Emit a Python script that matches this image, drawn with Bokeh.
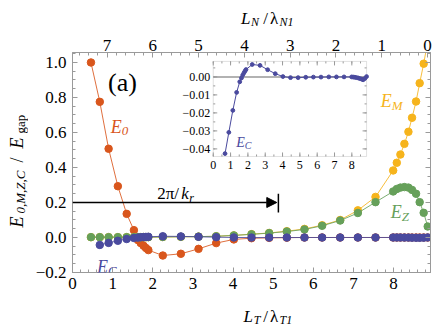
import numpy as np
from bokeh.plotting import figure
from bokeh.layouts import row, column
from bokeh.models import (Range1d, LinearAxis, FixedTicker, CustomJSTickFormatter,
                          Label, Arrow, NormalHead, BoxAnnotation)
from bokeh.core.properties import value
from bokeh.embed import file_html
from bokeh.resources import INLINE

# ---------------- data ----------------
LT = [0.46, 0.68, 0.90, 1.13, 1.35, 1.53, 1.63, 1.70, 1.77, 1.83, 1.89, 2.25, 2.70,
      3.14, 3.58, 4.02, 4.46, 4.90, 5.34, 5.78, 6.22, 6.67, 7.11, 7.55, 7.99, 8.08,
      8.17, 8.27, 8.37, 8.46, 8.56, 8.65, 8.75, 8.85]
E0 = [1.0, 0.775, 0.507, 0.293, 0.135, 0.042, -0.015, -0.032, -0.047, -0.060, -0.072,
      -0.103, -0.093, -0.065, -0.032, -0.011, -0.004, -0.002, -0.001, 0.0, 0.0, 0.0,
      0.0, 0.0, 0.0, 0.0, 0.0, 0.0, 0.0, 0.0, 0.0, 0.0, 0.0, 0.0]
EM = [0.002, 0.002, 0.002, 0.002, 0.002, 0.002, 0.002, 0.002, 0.002, 0.002, 0.002,
      0.003, 0.004, 0.005, 0.007, 0.012, 0.019, 0.026, 0.036, 0.049, 0.070, 0.100,
      0.155, 0.232, 0.383, 0.427, 0.474, 0.535, 0.604, 0.684, 0.777, 0.882, 0.993, 1.12]
EZ = [0.002, 0.002, 0.002, 0.002, 0.002, 0.002, 0.002, 0.002, 0.002, 0.002, 0.002,
      0.003, 0.004, 0.005, 0.007, 0.012, 0.018, 0.025, 0.034, 0.046, 0.067, 0.097,
      0.140, 0.202, 0.263, 0.277, 0.285, 0.288, 0.285, 0.272, 0.250, 0.202, 0.141, 0.063]
LT_C = LT[1:]
EC = [-0.0426, -0.0308, -0.0186, -0.0086, -0.0027, -0.0006, 0.0010, 0.0022, 0.0032,
      0.0041, 0.0069, 0.0064, 0.0040, 0.0018, 0.0002, -0.0004, -0.0004, -0.0002,
      -0.0001, -0.0001, 0.0, 0.0, 0.0, 0.0, -0.0001, -0.0002, -0.0004, -0.0006,
      -0.0009, -0.0012, -0.0016, -0.0009, 0.0002]

x_ticks = [0, 1, 2, 3, 4, 5, 6, 7, 8]
y_ticks = [-0.2, 0.0, 0.2, 0.4, 0.6, 0.8, 1.0]
LN_ticks = [0, 1, 2, 3, 4, 5, 6, 7]
inset_x_ticks = [0, 1, 2, 3, 4, 5, 6, 7, 8]
inset_x_labels = ["0", "1", "2", "3", "4", "5", "6", "7", "8"]
inset_y_ticks = [-0.04, -0.03, -0.02, -0.01, 0.0]
inset_y_labels = ["\u22120.04", "\u22120.03", "\u22120.02", "\u22120.01", "0.00"]

kr_level = 0.2        # height of the 2pi/k_r arrow
kr_period = 5.13      # 2pi/k_r in units of L_T/lambda_T1

# ---------------- layout (page pixels) ----------------
LW = 28                   # left strip (rotated y title)
TH, MH, BH = 27, 271, 27  # top strip, main figure, bottom strip heights
MW = 436 - LW
FL, FR, FT, FB = 72 - LW, 6, 52 - TH, TH + MH - 272   # main-figure borders
X0, X1 = 0.0, 8.92
Y0, Y1 = -0.2, 1.057
LN0, LN1 = 7.755, -0.066

GRAY = "#9a9a9a"
FONT = "Liberation Serif"
c0, cM, cZ, cC = "#D9561C", "#F6B41C", "#66A05A", "#4A4A9E"

p_main = figure(width=MW, height=MH, x_range=Range1d(X0, X1), y_range=Range1d(Y0, Y1),
                output_backend="svg", toolbar_location=None, title_location=None,
                min_border_left=FL, min_border_right=FR,
                min_border_top=FT, min_border_bottom=FB)
p_main.xgrid.visible = False
p_main.ygrid.visible = False
p_main.outline_line_color = GRAY
p_main.background_fill_color = "white"
p_main.border_fill_color = "white"


def style_axis(ax, standoff):
    ax.axis_line_color = GRAY
    ax.major_tick_line_color = GRAY
    ax.minor_tick_line_color = GRAY
    ax.major_tick_in = 5
    ax.major_tick_out = 0
    ax.minor_tick_in = 3
    ax.minor_tick_out = 0
    ax.major_label_text_font = FONT
    ax.major_label_text_font_size = "17px"
    ax.major_label_text_color = "black"
    ax.major_label_standoff = standoff


yminor = np.round(np.arange(-0.2, 1.06, 0.05), 3).tolist()
yfmt = CustomJSTickFormatter(code="""
const a = Math.abs(tick) < 1e-9 ? 0 : tick;
return (a < 0 ? "\u2212" : "") + Math.abs(a).toFixed(1);
""")

ax_b = p_main.xaxis[0]
ax_b.ticker = FixedTicker(ticks=x_ticks, minor_ticks=np.round(np.arange(0, 8.95, 0.2), 3).tolist())
style_axis(ax_b, 5)

ax_l = p_main.yaxis[0]
ax_l.ticker = FixedTicker(ticks=y_ticks, minor_ticks=yminor)
ax_l.formatter = yfmt
style_axis(ax_l, 6)

ax_r = LinearAxis(ticker=FixedTicker(ticks=y_ticks, minor_ticks=yminor),
                  formatter=CustomJSTickFormatter(code="return '';"))
style_axis(ax_r, 0)
ax_r.major_label_text_font_size = "1px"
p_main.add_layout(ax_r, "right")

p_main.extra_x_ranges = {"LN": Range1d(LN0, LN1)}
ax_t = LinearAxis(x_range_name="LN",
                  ticker=FixedTicker(ticks=LN_ticks,
                                     minor_ticks=np.round(np.arange(0, 7.8, 0.2), 3).tolist()))
style_axis(ax_t, 2)
p_main.add_layout(ax_t, "above")

PXY = (Y1 - Y0) / (MH - FT - FB)   # data units per pixel (y)


def lab(fig, x, y, text, size, color="black", italic=False, angle=0.0, x_offset=0):
    fig.add_layout(Label(x=x, y=y, text=text, text_font=FONT, text_font_size=f"{size}px",
                         text_color=color, text_font_style="italic" if italic else "normal",
                         angle=angle, text_align="left", text_baseline="alphabetic",
                         x_offset=x_offset))


def sym(x, y, main, sub, color, size=18, subsize=13, w=11, drop=4):
    lab(p_main, x, y, main, size, color, italic=True)
    lab(p_main, x, y - drop * PXY, sub, subsize, color, italic=True, x_offset=w)


# ---------------- main series ----------------
for xs, ys, col in [(LT, E0, c0), (LT, EM, cM), (LT, EZ, cZ), (LT_C, EC, cC)]:
    p_main.line(xs, ys, line_color=col, line_width=1, line_alpha=0.85)
    p_main.scatter(xs, ys, size=7.5, fill_color=col, line_color=col, marker="circle")

# arrow 2pi/k_r
p_main.add_layout(Arrow(end=NormalHead(size=10, fill_color="black", line_color="black", line_width=1),
                        x_start=X0, y_start=kr_level, x_end=kr_period - 0.04, y_end=kr_level,
                        line_color="black", line_width=1.5))
p_main.segment(x0=[kr_period], y0=[kr_level - 0.057], x1=[kr_period], y1=[kr_level + 0.05],
               line_color="black", line_width=1.5)
lab(p_main, 2.11, 0.251, "2\u03c0/", 17)
lab(p_main, 2.11, 0.251, "k", 17, italic=True, x_offset=24)
lab(p_main, 2.11, 0.251 - 4 * PXY, "r", 12, italic=True, x_offset=32)

# panel label and curve labels
lab(p_main, 0.886, 0.883, "(a)", 26)
sym(0.95, 0.629, "E", "0", c0)
sym(7.68, 0.779, "E", "M", cM)
sym(7.93, 0.145, "E", "Z", cZ)
sym(0.61, -0.166, "E", "C", cC)

# ---------------- inset ----------------
IX0, IX1 = 0.0, 8.85
IY0, IY1 = -0.0442, 0.0086
BL, BR, BB, BT = 3.507, 7.327, 0.463, 1.006   # inset box in main data units
sxm = (BR - BL) / (IX1 - IX0)
sym_ = (BT - BB) / (IY1 - IY0)
p_main.extra_x_ranges["ix"] = Range1d(IX0 - (BL - X0) / sxm, IX1 + (X1 - BR) / sxm)
p_main.extra_y_ranges["iy"] = Range1d(IY0 - (BB - Y0) / sym_, IY1 + (Y1 - BT) / sym_)
IPY = PXY / sym_   # inset y units per px

p_main.add_layout(BoxAnnotation(left=BL, right=BR, bottom=BB, top=BT, fill_color="white",
                                fill_alpha=1.0, line_color=GRAY, line_width=1, level="underlay"))
inset = dict(x_range_name="ix", y_range_name="iy")
p_main.segment(x0=[IX0], y0=[0.0], x1=[IX1], y1=[0.0], line_color="#999999", line_width=1.5, **inset)

xmin_i = np.round(np.arange(0, 8.85, 0.5), 3).tolist()
ymin_i = np.round(np.arange(-0.04, 0.0086, 0.005), 4).tolist()
for xs, L in [(inset_x_ticks, 4), (xmin_i, 2)]:
    p_main.ray(x=xs, y=[IY0] * len(xs), length=L, angle=np.pi / 2, length_units="screen",
               line_color=GRAY, line_width=1, **inset)
    p_main.ray(x=xs, y=[IY1] * len(xs), length=L, angle=-np.pi / 2, length_units="screen",
               line_color=GRAY, line_width=1, **inset)
for ys, L in [(inset_y_ticks, 4), (ymin_i, 2)]:
    p_main.ray(x=[IX0] * len(ys), y=ys, length=L, angle=0.0, length_units="screen",
               line_color=GRAY, line_width=1, **inset)
    p_main.ray(x=[IX1] * len(ys), y=ys, length=L, angle=np.pi, length_units="screen",
               line_color=GRAY, line_width=1, **inset)

p_main.text(x=[IX0] * len(inset_y_ticks), y=inset_y_ticks, text=inset_y_labels, x_offset=-3,
            text_align="right", text_baseline="middle", text_font=value(FONT),
            text_font_size="12px", text_color="black", **inset)
p_main.text(x=inset_x_ticks, y=[IY0 - 5 * IPY] * len(inset_x_ticks), text=inset_x_labels,
            text_align="center", text_baseline="top", text_font=value(FONT),
            text_font_size="12px", text_color="black", **inset)

p_main.line(LT_C, EC, line_color=cC, line_width=1, **inset)
p_main.scatter(LT_C, EC, size=3.8, fill_color=cC, line_color=cC, **inset)

ix_lab = (236 - 72.5) / 40.06
lab(p_main, ix_lab, 0.545, "E", 14, cC, italic=True)
lab(p_main, ix_lab, 0.545 - 3 * PXY, "C", 10, cC, italic=True, x_offset=8.5)


# ---------------- title strips (pixel coordinates) ----------------
def strip(w, h):
    f = figure(width=w, height=h, x_range=Range1d(0, w), y_range=Range1d(0, h),
               output_backend="svg", toolbar_location=None, title_location=None,
               x_axis_location=None, y_axis_location=None, min_border=0)
    f.grid.visible = False
    f.outline_line_color = None
    f.background_fill_color = "white"
    f.border_fill_color = "white"
    return f


p_top = strip(MW, TH)
p_bot = strip(MW, BH)
p_left = strip(LW, TH + MH + BH)

# top: L_N / lambda_N1   (x from the left of the strip, y from its bottom)
o = LW
lab(p_top, 220 - o, TH - 18, "L", 17, italic=True)
lab(p_top, 231.5 - o, TH - 21, "N", 12, italic=True)
lab(p_top, 245.5 - o, TH - 18, "/", 17)
lab(p_top, 253 - o, TH - 18, "\u03bb", 17)
lab(p_top, 264 - o, TH - 21, "N1", 12, italic=True)
# bottom: L_T / lambda_T1
b0 = TH + MH
lab(p_bot, 223 - o, BH - (316 - b0), "L", 17, italic=True)
lab(p_bot, 234.5 - o, BH - (319 - b0), "T", 12, italic=True)
lab(p_bot, 245.5 - o, BH - (316 - b0), "/", 17)
lab(p_bot, 253 - o, BH - (316 - b0), "\u03bb", 17)
lab(p_bot, 264 - o, BH - (319 - b0), "T1", 12, italic=True)
# left: E_{0,M,Z,C} / E_gap (rotated)
A = np.pi / 2
HL = TH + MH + BH
lab(p_left, 16, HL - 227, "E", 18, italic=True, angle=A)
lab(p_left, 20, HL - 213, "0,M,Z,C", 13, italic=True, angle=A)
lab(p_left, 16, HL - 162, "/", 18, angle=A)
lab(p_left, 16, HL - 148, "E", 18, italic=True, angle=A)
lab(p_left, 20, HL - 133, "gap", 13, angle=A)

p = row(p_left, column(p_top, p_main, p_bot))

open("out.html", "w").write(file_html(p, INLINE))
